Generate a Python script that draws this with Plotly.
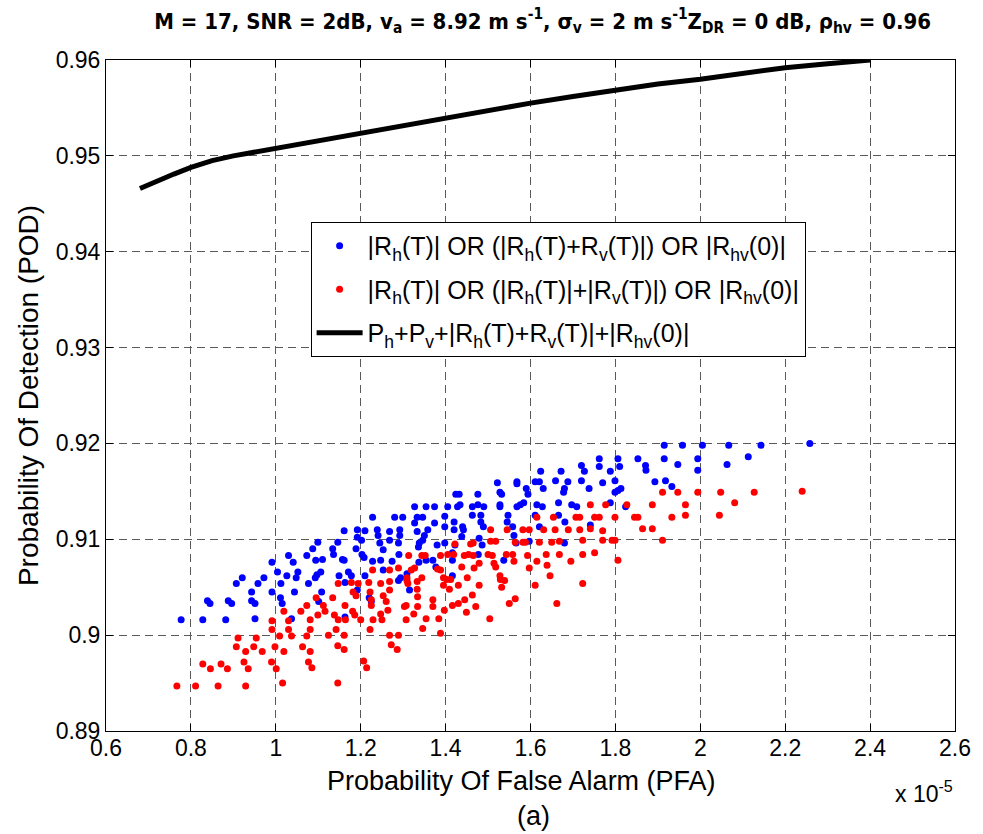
import plotly.graph_objects as go

# ---- data (PFA in units of 1e-5) ----
blue_x = [2.258,2.143,2.067,2.005,1.958,1.915,2.113,2.063,1.994,1.994,1.947,1.915,1.853,1.871,1.872,1.806,1.810,1.762,1.762,1.720,
          1.727,1.788,1.720,1.770,1.799,1.738,1.893,1.918,1.933,1.813,1.806,1.799,1.788,1.824,1.709,1.741,1.672,1.624,1.659,1.688,
          1.611,1.621,1.630,1.568,1.568,1.590,1.594,1.522,1.528,1.532,1.680,1.678,1.666,1.697,1.615,1.628,1.584,1.576,1.568,1.528,
          1.528,1.476,1.424,1.432,1.428,1.434,1.463,1.476,1.490,1.483,1.405,1.374,1.354,1.327,1.346,1.333,1.398,1.463,1.280,1.299,
          1.228,1.547,1.666,1.611,1.239,1.241,1.245,1.253,1.268,1.268,1.292,1.292,1.289,1.327,1.333,1.338,1.336,1.358,1.350,1.346,
          1.374,1.398,1.420,1.420,1.440,1.442,1.438,1.380,1.398,1.416,1.416,1.422,1.479,1.486,1.477,1.483,1.489,1.537,1.545,1.558,
          1.561,1.566,1.597,1.681,1.680,1.621,1.228,1.247,1.253,1.274,1.290,1.337,1.354,1.370,1.377,1.294,1.289,1.309,1.315,1.416,
          1.220,1.225,1.161,1.192,1.210,1.192,1.202,1.099,1.146,1.087,1.134,1.189,1.136,1.073,1.030,1.094,1.110,1.203,1.208,1.157,
          1.161,0.991,1.041,1.004,1.026,1.052,1.048,1.106,1.097,1.093,1.149,1.171,1.178,1.210,0.921,0.907,0.972,0.958,1.012,1.077,
          0.943,0.991,1.044,1.108,1.163,1.192,0.839,0.845,0.888,0.896,0.943,0.951,1.011,1.015,1.101,0.777,0.828,0.882,0.951,1.037,
          1.163]
blue_y = [0.9200,0.9198,0.9198,0.9198,0.9198,0.9198,0.9186,0.9178,0.9184,0.9172,0.9178,0.9184,0.9184,0.9177,0.9172,0.9184,0.9176,0.9184,0.9176,0.9177,
          0.9171,0.9171,0.9161,0.9159,0.9161,0.9153,0.9160,0.9161,0.9155,0.9153,0.9151,0.9149,0.9138,0.9134,0.9134,0.9115,0.9171,0.9171,0.9161,0.9160,
          0.9160,0.9160,0.9153,0.9160,0.9158,0.9153,0.9147,0.9159,0.9149,0.9147,0.9153,0.9149,0.9138,0.9136,0.9136,0.9134,0.9138,0.9136,0.9134,0.9136,
          0.9134,0.9147,0.9147,0.9147,0.9134,0.9136,0.9134,0.9136,0.9134,0.9125,0.9134,0.9134,0.9134,0.9134,0.9123,0.9123,0.9124,0.9125,0.9123,0.9123,
          0.9123,0.9125,0.9125,0.9125,0.9110,0.9104,0.9096,0.9089,0.9108,0.9099,0.9110,0.9104,0.9096,0.9117,0.9108,0.9096,0.9092,0.9110,0.9104,0.9099,
          0.9117,0.9113,0.9118,0.9110,0.9113,0.9110,0.9103,0.9094,0.9096,0.9086,0.9078,0.9094,0.9101,0.9094,0.9084,0.9118,0.9113,0.9078,0.9118,0.9113,
          0.9104,0.9096,0.9098,0.9118,0.9096,0.9113,0.9077,0.9078,0.9068,0.9077,0.9084,0.9076,0.9078,0.9078,0.9071,0.9060,0.9057,0.9064,0.9047,0.9062,
          0.9039,0.9035,0.9109,0.9110,0.9109,0.9102,0.9099,0.9097,0.9097,0.9090,0.9090,0.9090,0.9084,0.9083,0.9083,0.9078,0.9079,0.9084,0.9081,0.9079,
          0.9078,0.9076,0.9076,0.9066,0.9062,0.9066,0.9060,0.9066,0.9063,0.9060,0.9062,0.9066,0.9062,0.9062,0.9060,0.9054,0.9060,0.9054,0.9054,0.9054,
          0.9045,0.9045,0.9045,0.9045,0.9055,0.9047,0.9036,0.9033,0.9036,0.9033,0.9036,0.9033,0.9039,0.9033,0.9035,0.9016,0.9016,0.9016,0.9017,0.9017,
          0.9019]

red_x = [2.240,2.127,2.048,1.994,1.947,1.911,2.081,1.965,1.887,1.827,1.777,1.741,2.045,1.965,1.933,1.853,1.845,1.799,1.762,1.751,
         1.887,1.864,1.770,1.741,1.911,1.799,1.792,1.770,1.723,1.751,1.723,1.806,1.723,1.615,1.654,1.707,1.716,1.506,1.545,1.582,
         1.597,1.631,1.658,1.689,1.716,1.506,1.518,1.564,1.582,1.588,1.621,1.650,1.668,1.422,1.459,1.465,1.313,1.344,1.352,1.388,
         1.405,1.419,1.444,1.454,1.465,1.500,1.510,1.543,1.558,1.593,1.637,1.668,1.228,1.268,1.289,1.319,1.327,1.381,1.388,1.438,
         1.467,1.479,1.514,1.518,1.561,1.615,1.597,1.639,1.695,1.646,1.528,1.529,1.539,1.532,1.451,1.395,1.403,1.412,1.395,1.409,
         1.344,1.333,1.309,1.309,1.311,1.247,1.268,1.268,1.479,1.430,1.611,1.333,1.253,1.260,1.307,1.303,1.334,1.334,1.370,1.370,
         1.397,1.416,1.430,1.445,1.463,1.471,1.449,1.564,1.550,1.662,1.264,1.247,1.250,1.325,1.307,1.354,1.384,1.504,1.346,1.388,
         1.268,1.289,1.272,1.286,1.147,1.178,1.194,1.219,1.222,1.182,1.189,1.095,1.134,1.225,1.225,1.112,1.116,1.163,1.073,1.059,
         1.019,1.099,1.138,1.181,1.186,1.147,1.164,1.200,1.229,1.081,1.030,0.991,0.991,1.030,1.081,1.142,1.222,1.124,1.161,1.073,
         1.037,1.009,0.911,0.954,0.907,0.948,0.998,1.063,1.146,0.929,0.968,1.019,1.081,1.161,1.207,1.214,1.077,1.085,0.990,1.001,
         0.925,0.935,0.871,0.886,0.828,0.846,0.767,0.811,0.864,0.929,1.016,1.146]
red_y = [0.9150,0.9149,0.9149,0.9149,0.9149,0.9149,0.9138,0.9136,0.9136,0.9136,0.9136,0.9136,0.9125,0.9125,0.9123,0.9123,0.9123,0.9123,0.9123,0.9123,
         0.9111,0.9111,0.9109,0.9111,0.9099,0.9099,0.9099,0.9099,0.9099,0.9086,0.9084,0.9078,0.9054,0.9123,0.9123,0.9123,0.9123,0.9110,0.9110,0.9110,
         0.9110,0.9110,0.9110,0.9110,0.9110,0.9098,0.9098,0.9097,0.9097,0.9097,0.9097,0.9097,0.9098,0.9095,0.9095,0.9096,0.9083,0.9083,0.9083,0.9083,
         0.9084,0.9084,0.9083,0.9084,0.9083,0.9084,0.9083,0.9084,0.9084,0.9083,0.9084,0.9084,0.9068,0.9068,0.9070,0.9068,0.9070,0.9069,0.9068,0.9071,
         0.9070,0.9075,0.9075,0.9071,0.9077,0.9077,0.9070,0.9073,0.9077,0.9062,0.9062,0.9058,0.9057,0.9050,0.9060,0.9060,0.9058,0.9058,0.9052,0.9048,
         0.9060,0.9056,0.9060,0.9057,0.9054,0.9054,0.9056,0.9047,0.9052,0.9052,0.9052,0.9048,0.9041,0.9035,0.9031,0.9030,0.9040,0.9030,0.9037,0.9030,
         0.9026,0.9031,0.9033,0.9037,0.9042,0.9030,0.9024,0.9038,0.9033,0.9033,0.9026,0.9022,0.9016,0.9022,0.9016,0.9017,0.9017,0.9017,0.9007,0.9002,
         0.9000,0.9000,0.8990,0.8985,0.9054,0.9055,0.9054,0.9055,0.9045,0.9045,0.9041,0.9039,0.9039,0.9037,0.9031,0.9031,0.9025,0.9031,0.9031,0.9025,
         0.9025,0.9021,0.9021,0.9025,0.9021,0.9016,0.9016,0.9016,0.9016,0.9016,0.9015,0.9015,0.9006,0.9006,0.9006,0.9006,0.9006,0.9000,0.9000,0.8999,
         0.8999,0.8999,0.8997,0.8997,0.8988,0.8988,0.8988,0.8988,0.8989,0.8983,0.8983,0.8983,0.8983,0.8985,0.8973,0.8966,0.8972,0.8966,0.8972,0.8965,
         0.8972,0.8965,0.8970,0.8965,0.8970,0.8965,0.8947,0.8947,0.8947,0.8947,0.8950,0.8950]

line_x = [0.68,0.72,0.76,0.80,0.85,0.90,0.95,1.00,1.10,1.20,1.30,1.40,1.50,1.60,1.70,1.80,1.90,2.00,2.10,2.20,2.30,2.40]
line_y = [0.9466,0.9474,0.9481,0.9488,0.9495,0.9500,0.9504,0.9508,0.9516,0.9524,0.9532,0.9540,0.9547,0.9555,0.9562,0.9569,
          0.9575,0.9580,0.9586,0.9592,0.9596,0.9600]

x_ticks = [0.6, 0.8, 1.0, 1.2, 1.4, 1.6, 1.8, 2.0, 2.2, 2.4, 2.6]
x_tick_labels = ["0.6", "0.8", "1", "1.2", "1.4", "1.6", "1.8", "2", "2.2", "2.4", "2.6"]
y_ticks = [0.89, 0.90, 0.91, 0.92, 0.93, 0.94, 0.95, 0.96]
y_tick_labels = ["0.89", "0.9", "0.91", "0.92", "0.93", "0.94", "0.95", "0.96"]

name_blue = "|R<sub>h</sub>(T)| OR (|R<sub>h</sub>(T)+R<sub>v</sub>(T)|) OR |R<sub>hv</sub>(0)|"
name_red = "|R<sub>h</sub>(T)| OR (|R<sub>h</sub>(T)|+|R<sub>v</sub>(T)|) OR |R<sub>hv</sub>(0)|"
name_line = "P<sub>h</sub>+P<sub>v</sub>+|R<sub>h</sub>(T)+R<sub>v</sub>(T)|+|R<sub>hv</sub>(0)|"

title_text = ("<b>M = 17, SNR = 2dB, v<sub>a</sub> = 8.92 m s<sup>-1</sup>, σ<sub>v</sub> = 2 m s<sup>-1</sup>"
              "Z<sub>DR</sub> = 0 dB, ρ<sub>hv</sub> = 0.96</b>")

FONT = "Liberation Sans, Arial, sans-serif"

fig = go.Figure()
fig.add_trace(go.Scatter(x=blue_x, y=blue_y, mode="markers", name=name_blue, legendgroup="g1",
                         marker=dict(size=7, color="#0000ff", line=dict(width=0))))
fig.add_trace(go.Scatter(x=red_x, y=red_y, mode="markers", name=name_red, legendgroup="g2",
                         marker=dict(size=7, color="#ff0000", line=dict(width=0))))
fig.add_trace(go.Scatter(x=line_x, y=line_y, mode="lines", name=name_line, legendgroup="g3",
                         line=dict(color="black", width=5)))

axis_common = dict(showline=True, linecolor="black", linewidth=1, mirror="ticks",
                   ticks="inside", ticklen=7, tickcolor="black",
                   showgrid=True, gridcolor="#5a5a5a", gridwidth=1, griddash="8px,5px",
                   zeroline=False, tickfont=dict(family=FONT, size=23, color="black"))

fig.update_layout(
    width=983, height=834,
    margin=dict(l=106, r=22, t=60, b=103),
    paper_bgcolor="white", plot_bgcolor="white",
    font=dict(family=FONT, color="black"),
    title=dict(text=title_text, x=0.552, xanchor="center", y=0.975, yanchor="middle",
               font=dict(family="Liberation Sans Narrow, Arial Narrow, DejaVu Sans Condensed, sans-serif",
                         size=22, color="black")),
    xaxis=dict(range=[0.6, 2.6], tickvals=x_ticks, ticktext=x_tick_labels,
               ticklabelstandoff=-4, **axis_common),
    yaxis=dict(range=[0.89, 0.96], tickvals=y_ticks, ticktext=y_tick_labels, **axis_common),
    legend=dict(x=0.241, y=0.7586, xanchor="left", yanchor="top",
                bgcolor="white", bordercolor="black", borderwidth=1, itemwidth=46,
                font=dict(family=FONT, size=25, color="black"), tracegroupgap=8),
    showlegend=True,
)

fig.add_annotation(text="Probability Of Detection (POD)", xref="paper", yref="paper",
                   x=-0.0912, y=0.5, textangle=-90, showarrow=False,
                   xanchor="center", yanchor="middle", font=dict(family=FONT, size=28))
fig.add_annotation(text="Probability Of False Alarm (PFA)", xref="paper", yref="paper",
                   x=0.489, y=-0.074, showarrow=False, xanchor="center", yanchor="middle",
                   font=dict(family=FONT, size=27))
fig.add_annotation(text="(a)", xref="paper", yref="paper", x=0.503, y=-0.127,
                   showarrow=False, xanchor="center", yanchor="middle", font=dict(family=FONT, size=27))
fig.add_annotation(text="x 10<sup>-5</sup>", xref="paper", yref="paper", x=0.9275, y=-0.091,
                   showarrow=False, xanchor="left", yanchor="middle", font=dict(family=FONT, size=23))

fig.write_html("out.html")
